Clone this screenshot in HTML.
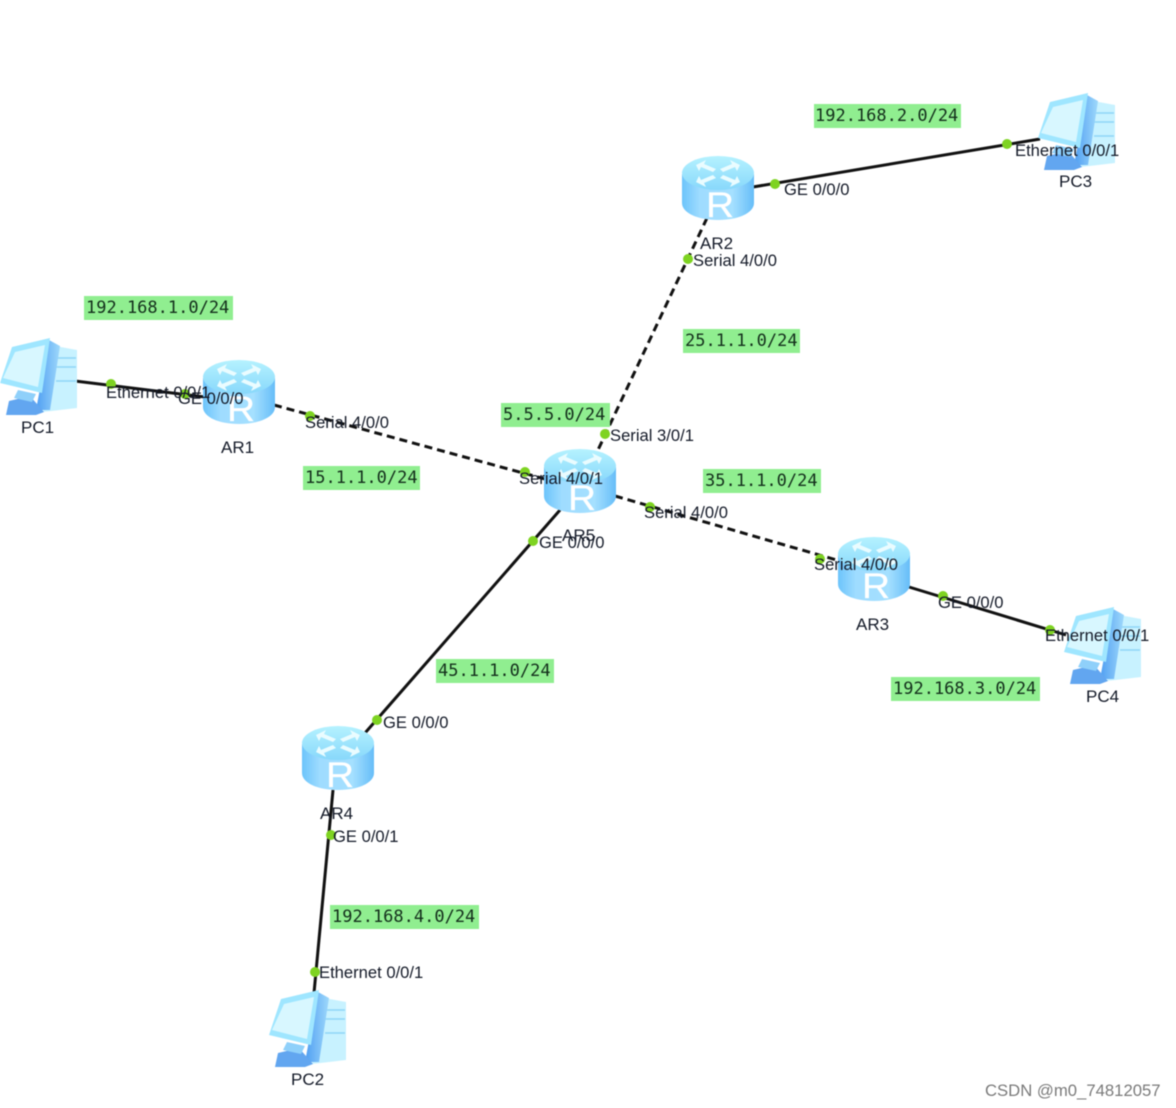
<!DOCTYPE html>
<html><head><meta charset="utf-8"><style>
html,body{margin:0;padding:0;background:#fff}
svg{display:block;filter:blur(.45px)}
.l{font:16.6px "Liberation Sans",sans-serif;fill:#141a28}
.n{font:17px "Liberation Sans",sans-serif;fill:#141a28}
.m{font:17px "DejaVu Sans Mono",monospace;fill:#14301c}
.r{font:35px "Liberation Sans",sans-serif;fill:#fff;stroke:#fff;stroke-width:.3}
.w{fill:none;stroke:#111;stroke-width:3}
.d{stroke-dasharray:8 5}
</style></head><body>
<svg width="1176" height="1108" viewBox="0 0 1176 1108" xmlns="http://www.w3.org/2000/svg">
<defs>
<linearGradient id="body" x1="0" x2="1" y1="0" y2="0"><stop offset="0" stop-color="#6cc4fb"/><stop offset=".25" stop-color="#9fdcff"/><stop offset=".7" stop-color="#a5e0ff"/><stop offset="1" stop-color="#66bdf8"/></linearGradient>
<linearGradient id="top" x1="0" x2="0" y1="0" y2="1"><stop offset="0" stop-color="#b5f2ff"/><stop offset="1" stop-color="#88d8fb"/></linearGradient>
<linearGradient id="side" x1="0" x2="1" y1="0" y2="0"><stop offset="0" stop-color="#4f9ef2"/><stop offset="1" stop-color="#9ed8fb"/></linearGradient>
<g id="arw" fill="#eafcff">
<path d="M0 0L10 -5L8 -1L20 4L17 7L5 2L3 6Z"/>
</g>
<g id="rt">
<path d="M0 18V47C0 57 16 64 36 64S72 57 72 47V18Z" fill="url(#body)"/>
<ellipse cx="36" cy="17" rx="36" ry="17" fill="url(#top)"/>
<use href="#arw" transform="translate(14,9)"/>
<use href="#arw" transform="translate(58,9) scale(-1,1)"/>
<use href="#arw" transform="translate(58,26) scale(-1,-1)"/>
<use href="#arw" transform="translate(14,26) scale(1,-1)"/>
</g>
<g id="pc">
<path d="M50 7L77 12V70L43 74Z" fill="#c8f2ff"/>
<path d="M56 20h20M56 29h20M56 43h20" stroke="#8fd6f7" stroke-width="1.4"/>
<path d="M49 2L60 8L50 72L36 72Z" fill="url(#side)"/>
<path d="M12 9L50 0L42 55L0 45Z" fill="#9fe6ff"/>
<path d="M15 14L45 7L38 49L3 40Z" fill="#d8f7ff"/>
<path d="M9 63L30 58L44 74L36 77H6Z" fill="#62a6f0"/>
<path d="M18 52L36 56L32 64L14 60Z" fill="#8fd0fa"/>
</g>
</defs>

<!-- links -->
<path class="w" d="M75 381L205 397"/>
<path class="w d" d="M274 405L545 479"/>
<path class="w d" d="M707 218L598 450"/>
<path class="w d" d="M615 496L840 561"/>
<path class="w" d="M909 587L1066 635"/>
<path class="w" d="M753 187L1040 139"/>
<path class="w" d="M560 510L365 733"/>
<path class="w" d="M333 790L314 993"/>

<!-- devices -->
<use href="#pc" x="0" y="338"/>
<use href="#pc" x="1038" y="93"/>
<use href="#pc" x="1064" y="607"/>
<use href="#pc" x="269" y="990"/>
<use href="#rt" x="682" y="156"/><text class="r" x="706" y="217" textLength="28" lengthAdjust="spacingAndGlyphs">R</text>
<use href="#rt" x="203" y="360"/><text class="r" x="227" y="421" textLength="28" lengthAdjust="spacingAndGlyphs">R</text>
<use href="#rt" x="544" y="449"/><text class="r" x="568" y="510" textLength="28" lengthAdjust="spacingAndGlyphs">R</text>
<use href="#rt" x="838" y="537"/><text class="r" x="862" y="598" textLength="28" lengthAdjust="spacingAndGlyphs">R</text>
<use href="#rt" x="302" y="726"/><text class="r" x="326" y="787" textLength="28" lengthAdjust="spacingAndGlyphs">R</text>

<!-- endpoints -->
<g fill="#7ed321">
<circle cx="775" cy="184" r="5"/><circle cx="1007" cy="144" r="5"/><circle cx="688" cy="259" r="5"/>
<circle cx="111" cy="384" r="5"/><circle cx="185" cy="394" r="5"/><circle cx="310" cy="416" r="5"/>
<circle cx="525" cy="472" r="5"/><circle cx="605" cy="434" r="5"/><circle cx="650" cy="507" r="5"/>
<circle cx="533" cy="541" r="5"/><circle cx="820" cy="559" r="5"/><circle cx="943" cy="596" r="5"/>
<circle cx="1050" cy="630" r="5"/><circle cx="377" cy="720" r="5"/><circle cx="331" cy="835" r="5"/><circle cx="315" cy="972" r="5"/>
</g>

<!-- subnets -->
<g fill="#90ee90">
<rect x="84" y="296" width="149" height="24"/>
<rect x="814" y="104" width="147" height="24"/>
<rect x="683" y="329" width="117" height="24"/>
<rect x="501" y="403" width="109" height="24"/>
<rect x="303" y="466" width="117" height="24"/>
<rect x="703" y="469" width="118" height="24"/>
<rect x="436" y="659" width="118" height="24"/>
<rect x="891" y="677" width="149" height="24"/>
<rect x="330" y="905" width="149" height="24"/>
</g>
<g>
<text class="m" x="86" y="313">192.168.1.0/24</text>
<text class="m" x="815" y="121">192.168.2.0/24</text>
<text class="m" x="685" y="346">25.1.1.0/24</text>
<text class="m" x="503" y="420">5.5.5.0/24</text>
<text class="m" x="305" y="483">15.1.1.0/24</text>
<text class="m" x="705" y="486">35.1.1.0/24</text>
<text class="m" x="438" y="676">45.1.1.0/24</text>
<text class="m" x="893" y="694">192.168.3.0/24</text>
<text class="m" x="332" y="922">192.168.4.0/24</text>
</g>

<!-- interface labels -->
<text class="l" x="784" y="195">GE 0/0/0</text>
<text class="l" x="1015" y="156">Ethernet 0/0/1</text>
<text class="l" x="693" y="266">Serial 4/0/0</text>
<text class="l" x="106" y="398">Ethernet 0/0/1</text>
<text class="l" x="178" y="404">GE 0/0/0</text>
<text class="l" x="305" y="428">Serial 4/0/0</text>
<text class="l" x="519" y="484">Serial 4/0/1</text>
<text class="l" x="610" y="441">Serial 3/0/1</text>
<text class="l" x="644" y="518">Serial 4/0/0</text>
<text class="l" x="539" y="548">GE 0/0/0</text>
<text class="l" x="814" y="570">Serial 4/0/0</text>
<text class="l" x="938" y="608">GE 0/0/0</text>
<text class="l" x="1045" y="641">Ethernet 0/0/1</text>
<text class="l" x="383" y="728">GE 0/0/0</text>
<text class="l" x="333" y="842">GE 0/0/1</text>
<text class="l" x="319" y="978">Ethernet 0/0/1</text>

<!-- device names -->
<text class="n" x="700" y="249">AR2</text>
<text class="n" x="1059" y="187">PC3</text>
<text class="n" x="21" y="433">PC1</text>
<text class="n" x="221" y="453">AR1</text>
<text class="n" x="562" y="541">AR5</text>
<text class="n" x="856" y="630">AR3</text>
<text class="n" x="1086" y="702">PC4</text>
<text class="n" x="320" y="819">AR4</text>
<text class="n" x="291" y="1085">PC2</text>

<text x="985" y="1096" style="font:16.7px 'Liberation Sans',sans-serif;fill:#7a7a7a">CSDN @m0_74812057</text>
</svg>
</body></html>
